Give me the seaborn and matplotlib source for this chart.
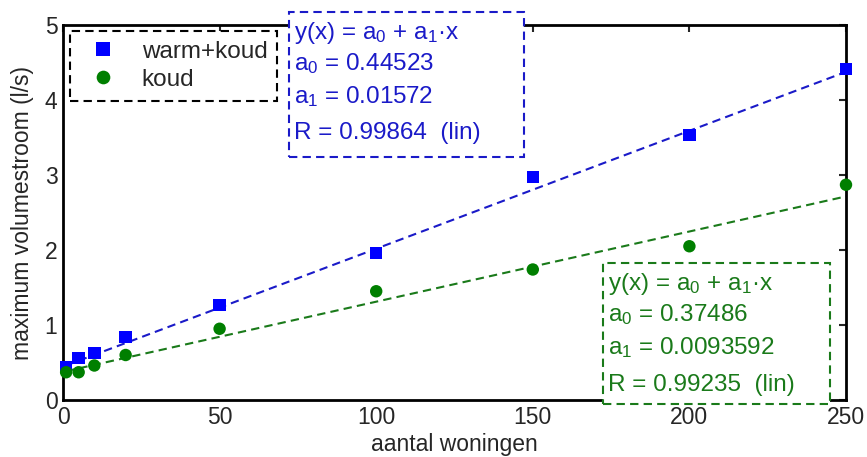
import numpy as np
import pandas as pd
import seaborn as sns
from matplotlib import pyplot as plt
from matplotlib.patches import Rectangle

# aantal woningen vs maximum volumestroom (l/s)
woningen = [1, 5, 10, 20, 50, 100, 150, 200, 250]
warm_koud = [0.44, 0.56, 0.63, 0.84, 1.27, 1.96, 2.97, 3.53, 4.41]
koud = [0.37, 0.37, 0.46, 0.60, 0.95, 1.45, 1.74, 2.05, 2.87]

# fit coefficients (y = a0 + a1*x)
fit_wk = [0.44523, 0.01572, 0.99864]
fit_k = [0.37486, 0.0093592, 0.99235]

sns.set_style('white')
plt.rcParams['font.family'] = ['Liberation Sans', 'DejaVu Sans']
plt.rcParams['mathtext.fontset'] = 'custom'
plt.rcParams['mathtext.rm'] = 'Liberation Sans'

BLUE = '#0000ff'
BLUE_D = '#1a1ac8'
GREEN = '#007f00'
GREEN_D = '#1a7a1a'

df = pd.DataFrame({'x': woningen * 2,
                   'y': warm_koud + koud,
                   'serie': ['warm+koud'] * len(woningen) + ['koud'] * len(woningen)})

xs = np.array([woningen[0], woningen[-1]])
lines = pd.DataFrame({'x': np.concatenate([xs, xs]),
                      'y': np.concatenate([fit_wk[0] + fit_wk[1] * xs, fit_k[0] + fit_k[1] * xs]),
                      'serie': ['warm+koud'] * 2 + ['koud'] * 2})

fig = plt.figure(figsize=(8.67, 4.57), dpi=100)
ax = fig.add_axes([63 / 867, 57 / 457, (846 - 63) / 867, (400 - 25) / 457])

sns.lineplot(data=lines[lines.serie == 'warm+koud'], x='x', y='y', color=BLUE_D,
             linestyle=(0, (4, 2.5)), lw=1.5, ax=ax, legend=False)
sns.lineplot(data=lines[lines.serie == 'koud'], x='x', y='y', color=GREEN_D,
             linestyle=(0, (4, 2.5)), lw=1.5, ax=ax, legend=False)
sns.scatterplot(data=df, x='x', y='y', hue='serie', style='serie',
                palette={'warm+koud': BLUE, 'koud': GREEN},
                markers={'warm+koud': 's', 'koud': 'o'}, s=80, linewidth=0,
                ax=ax, clip_on=False, zorder=3)

ax.set_xlim(0, 250)
ax.set_ylim(0, 5)
ax.set_xticks([0, 50, 100, 150, 200, 250])
ax.set_yticks([0, 1, 2, 3, 4, 5])
ax.tick_params(direction='in', length=5, width=1.5, labelsize=16.5,
               top=True, right=True, pad=4)
for s in ax.spines.values():
    s.set_linewidth(2)
    s.set_color('black')
ax.set_xlabel('aantal woningen', fontsize=16.5, labelpad=3)
ax.set_ylabel('maximum volumestroom (l/s)', fontsize=16.5, labelpad=8)

leg = ax.legend(loc='upper left', bbox_to_anchor=(0.009, 0.984), borderaxespad=0,
                fontsize=17.5, fancybox=False, edgecolor='black', framealpha=1,
                handletextpad=0.6, borderpad=0.4, labelspacing=0.25,
                handlelength=1.95, markerscale=1.1)
leg.get_frame().set_linestyle((0, (4, 2.5)))
leg.get_frame().set_linewidth(1.5)

W, H = 867, 457


def fit_box(x0, y0, x1, y1, lines_y, coef, color):
    fig.add_artist(Rectangle((x0 / W, 1 - y1 / H), (x1 - x0) / W, (y1 - y0) / H,
                             transform=fig.transFigure, fc='white', ec=color,
                             lw=1.5, ls=(0, (4, 2.5)), zorder=5))
    texts = [r'y(x) = a$\mathregular{_0}$ + a$\mathregular{_1}$·x',
             r'a$\mathregular{_0}$ = ' + f'{coef[0]:g}',
             r'a$\mathregular{_1}$ = ' + f'{coef[1]:g}',
             f'R = {coef[2]:.5f}  (lin)']
    for t, yy in zip(texts, lines_y):
        fig.text((x0 + 5) / W, 1 - yy / H, t, color=color, fontsize=17.5,
                 va='center', ha='left', zorder=6)


fit_box(289, 12, 524, 157, [33, 64, 97, 133], fit_wk, BLUE_D)
fit_box(603, 263, 830, 404, [284, 315, 348, 385], fit_k, GREEN_D)

fig.savefig('out.png', dpi=100)
